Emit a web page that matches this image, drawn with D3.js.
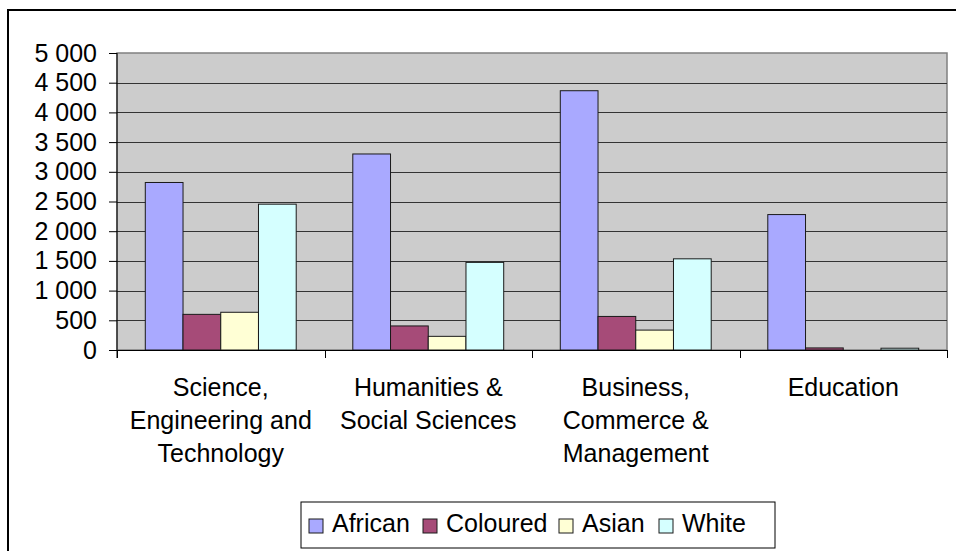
<!DOCTYPE html>
<html>
<head>
<meta charset="utf-8">
<script src="https://cdn.jsdelivr.net/npm/d3@7"></script>
<style>
  html, body { margin: 0; padding: 0; background: #fff; }
  svg { display: block; font-family: "Liberation Sans", Arial, sans-serif; }
</style>
</head>
<body>
<svg id="chart" width="956" height="551"></svg>
<script>
const categories = [
  ["Science,", "Engineering and", "Technology"],
  ["Humanities &", "Social Sciences"],
  ["Business,", "Commerce &", "Management"],
  ["Education"]
];
const categoryKeys = ["SET", "HSS", "BCM", "EDU"];
const seriesNames = ["African", "Coloured", "Asian", "White"];
const seriesColors = ["#A9A9FF", "#A64B78", "#FFFFD5", "#D5FFFF"];
const african  = [2820, 3300, 4365, 2280];
const coloured = [600, 405, 565, 35];
const asian    = [635, 230, 335, 0];
const white    = [2455, 1475, 1535, 30];
const yTicks = [0, 500, 1000, 1500, 2000, 2500, 3000, 3500, 4000, 4500, 5000];
const yTickLabels = ["0", "500", "1 000", "1 500", "2 000", "2 500", "3 000", "3 500", "4 000", "4 500", "5 000"];

const seriesValues = [african, coloured, asian, white];
const FS = 25;

const svg = d3.select("#chart");
const plot = { left: 117, right: 947, top: 53, bottom: 350 };

// outer chart border (extends past the right and bottom edges)
svg.append("rect")
  .attr("x", 8).attr("y", 10).attr("width", 980).attr("height", 600)
  .attr("fill", "#fff").attr("stroke", "#000").attr("stroke-width", 2);

const x0 = d3.scaleBand().domain(categoryKeys).range([plot.left, plot.right]).padding(0);
const x1 = d3.scaleBand().domain(seriesNames).range([0, x0.bandwidth()]).paddingInner(0).paddingOuter(0.75);
const y = d3.scaleLinear().domain([0, 5000]).range([plot.bottom, plot.top]);

// plot background
svg.append("rect")
  .attr("x", plot.left).attr("y", plot.top)
  .attr("width", plot.right - plot.left).attr("height", plot.bottom - plot.top)
  .attr("fill", "#CCCCCC").attr("stroke", "#808080").attr("stroke-width", 1.5);

// gridlines
svg.append("g").selectAll("line")
  .data(yTicks.filter(d => d > 0 && d < 5000))
  .join("line")
  .attr("x1", plot.left).attr("x2", plot.right)
  .attr("y1", d => Math.round(y(d)) + 0.5).attr("y2", d => Math.round(y(d)) + 0.5)
  .attr("stroke", "#333").attr("stroke-width", 1);

// bars
const groups = svg.append("g").selectAll("g")
  .data(categoryKeys)
  .join("g")
  .attr("transform", d => `translate(${x0(d)},0)`);

groups.selectAll("rect")
  .data((d, i) => seriesNames.map((s, j) => ({ s, j, v: seriesValues[j][i] })))
  .join("rect")
  .filter(d => d.v > 0)
  .attr("x", d => x1(d.s))
  .attr("width", x1.bandwidth())
  .attr("y", d => y(d.v))
  .attr("height", d => y(0) - y(d.v))
  .attr("fill", d => seriesColors[d.j])
  .attr("stroke", "#1a1a1a").attr("stroke-width", 1);

// y axis
const yAxis = d3.axisLeft(y)
  .tickValues(yTicks)
  .tickFormat((d, i) => yTickLabels[i])
  .tickSize(8).tickPadding(12);
const yg = svg.append("g").attr("transform", `translate(${plot.left},0)`).call(yAxis);
yg.select(".domain").attr("stroke", "#000").attr("d", `M0,${plot.top}V${plot.bottom + 8}`);
yg.selectAll(".tick line").attr("stroke", "#000");
yg.selectAll(".tick text")
  .attr("font-size", FS).attr("fill", "#000")
  .attr("font-family", "Liberation Sans, Arial, sans-serif");

// x axis line + ticks at category boundaries
const boundaries = categoryKeys.map(k => x0(k)).concat([x0(categoryKeys[categoryKeys.length - 1]) + x0.bandwidth()]);
svg.append("line")
  .attr("x1", plot.left).attr("x2", plot.right)
  .attr("y1", plot.bottom + 0.5).attr("y2", plot.bottom + 0.5)
  .attr("stroke", "#000");
svg.append("g").selectAll("line")
  .data(boundaries)
  .join("line")
  .attr("x1", d => Math.round(d) + 0.5).attr("x2", d => Math.round(d) + 0.5)
  .attr("y1", plot.bottom).attr("y2", plot.bottom + 8)
  .attr("stroke", "#000");

// category labels
const labels = svg.append("g").selectAll("text")
  .data(categoryKeys)
  .join("text")
  .attr("x", d => x0(d) + x0.bandwidth() / 2)
  .attr("y", 396)
  .attr("text-anchor", "middle")
  .attr("font-size", FS)
  .attr("fill", "#000");
labels.each(function (d, i) {
  d3.select(this).selectAll("tspan")
    .data(categories[i])
    .join("tspan")
    .attr("x", x0(d) + x0.bandwidth() / 2)
    .attr("dy", (t, j) => j === 0 ? 0 : 33)
    .text(t => t);
});

// legend
const legend = svg.append("g");
legend.append("rect")
  .attr("x", 301).attr("y", 502).attr("width", 474).attr("height", 46)
  .attr("fill", "#fff").attr("stroke", "#000").attr("stroke-width", 1);
const legendX = [309, 423, 559, 659];
const items = legend.selectAll("g.item")
  .data(seriesNames)
  .join("g").attr("class", "item")
  .attr("transform", (d, i) => `translate(${legendX[i]},0)`);
items.append("rect")
  .attr("x", 0).attr("y", 519).attr("width", 14).attr("height", 14)
  .attr("fill", (d, i) => seriesColors[i])
  .attr("stroke", "#1a1a1a").attr("stroke-width", 1);
items.append("text")
  .attr("x", 23).attr("y", 532)
  .attr("font-size", FS).attr("fill", "#000")
  .text(d => d);
</script>
</body>
</html>
